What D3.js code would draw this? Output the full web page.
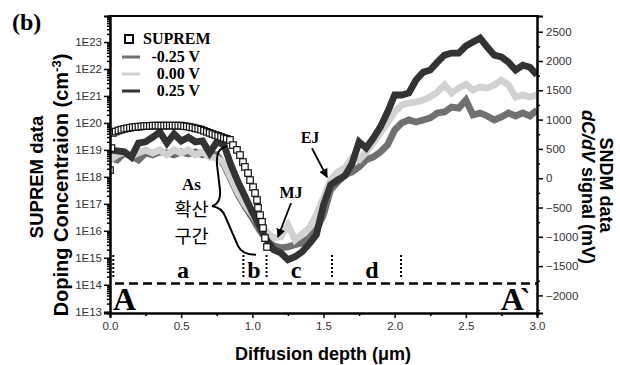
<!DOCTYPE html>
<html><head><meta charset="utf-8">
<script src="https://cdn.jsdelivr.net/npm/d3@7"></script>
<style>body{margin:0;background:#fff}svg{display:block}</style>
</head><body>
<svg id="c" width="620" height="365"></svg>
<script>
// ---------- data ----------
const depthGrid = [0,0.05,0.1,0.15,0.2,0.25,0.3,0.35,0.4,0.45,0.5,0.55,0.6,0.65,0.7,0.75,0.8,0.85,0.9,0.95,1.0,1.05,1.1,1.15,1.2,1.25,1.3,1.35,1.4,1.45,1.5,1.55,1.6,1.65,1.7,1.75,1.8,1.85,1.9,1.95,2.0,2.05,2.1,2.15,2.2,2.25,2.3,2.35,2.4,2.45,2.5,2.55,2.6,2.65,2.7,2.75,2.8,2.85,2.9,2.95,3.0];
const sndmNeg025 = [346,312,431,380,312,431,397,448,431,397,448,414,448,397,431,397,227,-29,-285,-489,-677,-881,-1051,-1154,-1188,-1171,-1137,-1103,-1017,-881,-626,-200,-63,56,107,193,312,363,448,568,823,943,994,960,994,1028,1113,1130,1215,1198,1334,1079,1113,1062,994,1045,1113,1062,1113,1062,1164];
const sndm000 = [312,397,448,380,431,482,431,482,397,482,431,482,397,448,363,346,261,5,-251,-455,-626,-796,-915,-1017,-1000,-796,-1051,-949,-847,-626,-336,-29,107,176,346,312,448,602,772,943,1130,1249,1283,1300,1334,1386,1471,1590,1454,1539,1607,1505,1556,1539,1590,1675,1590,1386,1420,1386,1420];
const sndmPos025 = [480,465,450,360,600,620,700,790,600,755,635,700,620,635,430,620,570,225,-65,-320,-575,-815,-1050,-1220,-1275,-1390,-1340,-1255,-1120,-965,-455,-115,-30,40,245,620,515,685,875,1130,1420,1420,1455,1675,1810,1845,1980,2100,2135,2135,2255,2325,2390,2240,2100,2070,1980,1845,1930,1895,1760];
const supremDepth = [0,0.01,0.02,0.04,0.06,0.08,0.10,0.12,0.14,0.16,0.18,0.20,0.22,0.24,0.26,0.28,0.30,0.32,0.34,0.36,0.38,0.40,0.42,0.44,0.46,0.48,0.50,0.52,0.54,0.56,0.58,0.60,0.62,0.64,0.66,0.68,0.70,0.72,0.74,0.76,0.78,0.80,0.82,0.843,0.864,0.892,0.913,0.934,0.948,0.970,0.984,1.005,1.019,1.033,1.040,1.054,1.068,1.075,1.089,1.103];
const supremConc = [1.78e18,1.17e19,4.27e19,4.79e19,5.25e19,5.62e19,6.03e19,6.31e19,6.61e19,6.92e19,7.08e19,7.24e19,7.41e19,7.59e19,7.76e19,7.76e19,7.94e19,7.94e19,7.94e19,7.94e19,7.94e19,7.94e19,7.94e19,7.94e19,7.94e19,7.94e19,7.94e19,7.59e19,7.41e19,7.08e19,6.76e19,6.31e19,6.03e19,5.62e19,5.13e19,4.68e19,4.27e19,3.89e19,3.55e19,3.31e19,3.02e19,2.75e19,2.57e19,2.34e19,1.51e19,1.0e19,6.46e18,3.55e18,2.34e18,1.38e18,7.59e17,4.17e17,2.51e17,1.38e17,7.08e16,3.80e16,2.14e16,1.26e16,5.37e15,2.51e15];
const seriesNames = ["-0.25 V","0.00 V","0.25 V"];
const seriesColors = ["#707070","#d2d2d2","#333333"];
const xTicks = [0,0.5,1.0,1.5,2.0,2.5,3.0];
const xMinor = [0.25,0.75,1.25,1.75,2.25,2.75];
const leftTicks = [1e13,1e14,1e15,1e16,1e17,1e18,1e19,1e20,1e21,1e22,1e23];
const rightTicks = [-2000,-1500,-1000,-500,0,500,1000,1500,2000,2500];
const rightMinor = [-2250,-1750,-1250,-750,-250,250,750,1250,1750,2250];
const regionBounds = [0.023,0.937,1.10,1.56,2.045];
const regionLabels = [["a",0.513],["b",1.012],["c",1.307],["d",1.84]];

// ---------- setup ----------
const svg = d3.select("#c");
const L=110,R=537,T=16,B=313;
const x = d3.scaleLinear([0,3],[L,R]);
const yL = d3.scaleLog([Math.pow(10,12.952),Math.pow(10,23.964)],[B,T]);
const yR = d3.scaleLinear([-2300,2768],[B,T]);
const P = (xd,e)=>[x(xd), yL(Math.pow(10,e))];
const SANS = "'Liberation Sans', Arial, sans-serif";
const SERIF = "'Liberation Serif', 'Times New Roman', serif";

svg.append("defs").append("clipPath").attr("id","clip")
  .append("rect").attr("x",L).attr("y",T).attr("width",R-L).attr("height",B-T);
const mk = svg.select("defs").append("marker").attr("id","arr")
  .attr("viewBox","0 0 10 10").attr("refX",9).attr("refY",5)
  .attr("markerWidth",5).attr("markerHeight",5).attr("orient","auto")
  .attr("markerUnits","strokeWidth");
mk.append("path").attr("d","M0,0 L10,5 L0,10 Z").attr("fill","#000");

// ---------- SNDM lines ----------
const seriesData = [sndmNeg025, sndm000, sndmPos025];
const line = d3.line().x((d,i)=>x(depthGrid[i])).y(d=>yR(d));
const g = svg.append("g").attr("clip-path","url(#clip)");
seriesData.forEach((s,i)=>{
  g.append("path").attr("d",line(s)).attr("fill","none")
   .attr("stroke",seriesColors[i]).attr("stroke-width",6.8)
   .attr("stroke-linejoin","miter").attr("stroke-miterlimit",3);
});
// ---------- SUPREM squares ----------
const sq = 6.5;
g.selectAll("rect.sup").data(supremDepth).join("rect").attr("class","sup")
  .attr("x",(d)=>x(d)-sq/2).attr("y",(d,i)=>yL(supremConc[i])-sq/2)
  .attr("width",sq).attr("height",sq).attr("fill","#fff")
  .attr("stroke","#111").attr("stroke-width",1.2);

// ---------- annotations ----------
const ann = svg.append("g");
ann.append("line").attr("x1",x(0.035)).attr("x2",x(3)).attr("y1",yL(Math.pow(10,14.05))).attr("y2",yL(Math.pow(10,14.05)))
  .attr("stroke","#000").attr("stroke-width",2.5).attr("stroke-dasharray","9,5");
regionBounds.forEach(b=>{
  ann.append("line").attr("x1",x(b)).attr("x2",x(b)).attr("y1",yL(Math.pow(10,15.1))).attr("y2",yL(Math.pow(10,14.29)))
   .attr("stroke","#000").attr("stroke-width",2).attr("stroke-dasharray","2,2");
});
regionLabels.forEach(([t,xd])=>{
  ann.append("text").attr("x",x(xd)).attr("y",yL(Math.pow(10,14.25))).attr("text-anchor","middle")
   .attr("font-family",SERIF).attr("font-weight","bold").attr("font-size",24).text(t);
});
ann.append("text").attr("x",x(0.021)).attr("y",yL(Math.pow(10,13.06)))
  .attr("font-family",SERIF).attr("font-weight","bold").attr("font-size",32).text("A");
ann.append("text").attr("x",x(2.745)).attr("y",yL(Math.pow(10,13.06)))
  .attr("font-family",SERIF).attr("font-weight","bold").attr("font-size",32).attr("letter-spacing",-4).text("A`");
// brace
const bp = [[0.822,19.14],[0.766,19.07],[0.745,18.88],[0.752,18.44],[0.773,17.51],[0.780,16.99],[0.717,16.92],[0.787,16.85],[0.808,16.55],[0.899,15.44],[0.927,15.11],[1.026,15.11]].map(p=>P(p[0],p[1]));
const bd = `M${bp[0]} C${bp[1]} ${bp[2]} ${bp[3]} L${bp[4]} Q${bp[5]} ${bp[6]} Q${bp[7]} ${bp[8]} L${bp[9]} Q${bp[10]} ${bp[11]}`;
ann.append("path").attr("d",bd).attr("fill","none").attr("stroke","#000").attr("stroke-width",2);
ann.append("text").attr("x",x(0.573)).attr("y",yL(Math.pow(10,17.5))).attr("text-anchor","middle")
  .attr("font-family",SERIF).attr("font-weight","bold").attr("font-size",17).text("As");
ann.append("text").attr("x",x(0.573)).attr("y",yL(Math.pow(10,16.55))).attr("text-anchor","middle")
  .attr("font-family","'Noto Sans CJK KR', sans-serif").attr("font-size",18.5).text("확산");
ann.append("text").attr("x",x(0.573)).attr("y",yL(Math.pow(10,15.55))).attr("text-anchor","middle")
  .attr("font-family","'Noto Sans CJK KR', sans-serif").attr("font-size",18.5).text("구간");
ann.append("text").attr("x",x(1.272)).attr("y",yL(Math.pow(10,17.22))).attr("text-anchor","middle")
  .attr("font-family",SERIF).attr("font-weight","bold").attr("font-size",16).text("MJ");
ann.append("text").attr("x",x(1.405)).attr("y",yL(Math.pow(10,19.26))).attr("text-anchor","middle")
  .attr("font-family",SERIF).attr("font-weight","bold").attr("font-size",16).text("EJ");
const arrows = [[[1.272,17.03],[1.180,15.77]],[[1.419,19.06],[1.525,17.99]]];
arrows.forEach(([a,b])=>{
  const p1=P(a[0],a[1]), p2=P(b[0],b[1]);
  ann.append("line").attr("x1",p1[0]).attr("y1",p1[1]).attr("x2",p2[0]).attr("y2",p2[1])
   .attr("stroke","#000").attr("stroke-width",1.8).attr("marker-end","url(#arr)");
});

// ---------- axes ----------
function styleAxis(sel){
  sel.selectAll("path.domain").attr("stroke","#000").attr("stroke-width",2);
  sel.selectAll(".tick line").attr("stroke","#000").attr("stroke-width",1.5);
  sel.selectAll(".tick text").attr("font-family",SANS).attr("font-size",11.5).attr("fill","#333");
}
const leftMinor=[];
for(let e=13;e<=23;e++){for(let m=2;m<=9;m++){const v=m*Math.pow(10,e); if(v<Math.pow(10,23.964)) leftMinor.push(v);}}
const ax1 = svg.append("g").attr("transform",`translate(${L},0)`)
  .call(d3.axisLeft(yL).tickValues(leftMinor).tickSize(3).tickFormat(""));
styleAxis(ax1);
const ax2 = svg.append("g").attr("transform",`translate(${L},0)`)
  .call(d3.axisLeft(yL).tickValues(leftTicks).tickSize(6).tickPadding(2).tickFormat(d=>"1E"+Math.round(Math.log10(d))));
styleAxis(ax2);
const ax3 = svg.append("g").attr("transform",`translate(${R},0)`)
  .call(d3.axisRight(yR).tickValues(rightMinor).tickSize(3).tickFormat(""));
styleAxis(ax3);
const ax4 = svg.append("g").attr("transform",`translate(${R},0)`)
  .call(d3.axisRight(yR).tickValues(rightTicks).tickSize(6).tickPadding(3).tickFormat(d3.format("d")));
styleAxis(ax4);
const ax5 = svg.append("g").attr("transform",`translate(0,${B})`)
  .call(d3.axisBottom(x).tickValues(xMinor).tickSize(3).tickFormat(""));
styleAxis(ax5);
const ax6 = svg.append("g").attr("transform",`translate(0,${B})`)
  .call(d3.axisBottom(x).tickValues(xTicks).tickSize(5).tickPadding(4).tickFormat(d3.format(".1f")));
styleAxis(ax6);
svg.append("line").attr("x1",L-1).attr("x2",R+1).attr("y1",T).attr("y2",T).attr("stroke","#000").attr("stroke-width",2);

// ---------- titles ----------
svg.append("text").attr("x",12).attr("y",30).attr("font-family",SERIF).attr("font-weight","bold").attr("font-size",24).text("(b)");
svg.append("text").attr("x",323).attr("y",360).attr("text-anchor","middle").attr("font-family",SANS).attr("font-weight","bold").attr("font-size",18)
  .text("Diffusion depth (\u03BCm)");
svg.append("text").attr("transform","translate(43,177) rotate(-90)").attr("text-anchor","middle")
  .attr("font-family",SANS).attr("font-weight","bold").attr("font-size",18.5).text("SUPREM data");
const t2 = svg.append("text").attr("transform","translate(68,185) rotate(-90)").attr("text-anchor","middle")
  .attr("font-family",SANS).attr("font-weight","bold").attr("font-size",20);
t2.append("tspan").text("Doping Concentraion (cm");
t2.append("tspan").attr("dy",-7).attr("font-size",13).text("-3");
t2.append("tspan").attr("dy",7).text(")");
svg.append("text").attr("transform","translate(600,185) rotate(90)").attr("text-anchor","middle")
  .attr("font-family",SANS).attr("font-weight","bold").attr("font-size",18).text("SNDM data");
const t4 = svg.append("text").attr("transform","translate(582,187) rotate(90)").attr("text-anchor","middle")
  .attr("font-family",SANS).attr("font-weight","bold").attr("font-size",18);
t4.append("tspan").attr("font-style","italic").text("dC/dV");
t4.append("tspan").text(" signal (mV)");

// ---------- legend ----------
const lg = svg.append("g");
lg.append("rect").attr("x",125).attr("y",35).attr("width",8).attr("height",8).attr("fill","#fff").attr("stroke","#000").attr("stroke-width",2);
lg.append("text").attr("x",143).attr("y",44).attr("font-family",SERIF).attr("font-weight","bold").attr("font-size",16).text("SUPREM");
[57,74,91].forEach((yy,i)=>{
  lg.append("line").attr("x1",122).attr("x2",140).attr("y1",yy).attr("y2",yy).attr("stroke",seriesColors[i]).attr("stroke-width",3);
  lg.append("text").attr("x",200).attr("y",yy+5).attr("text-anchor","end").attr("font-family",SERIF).attr("font-weight","bold").attr("font-size",16).text(seriesNames[i]);
});
</script>
</body></html>
